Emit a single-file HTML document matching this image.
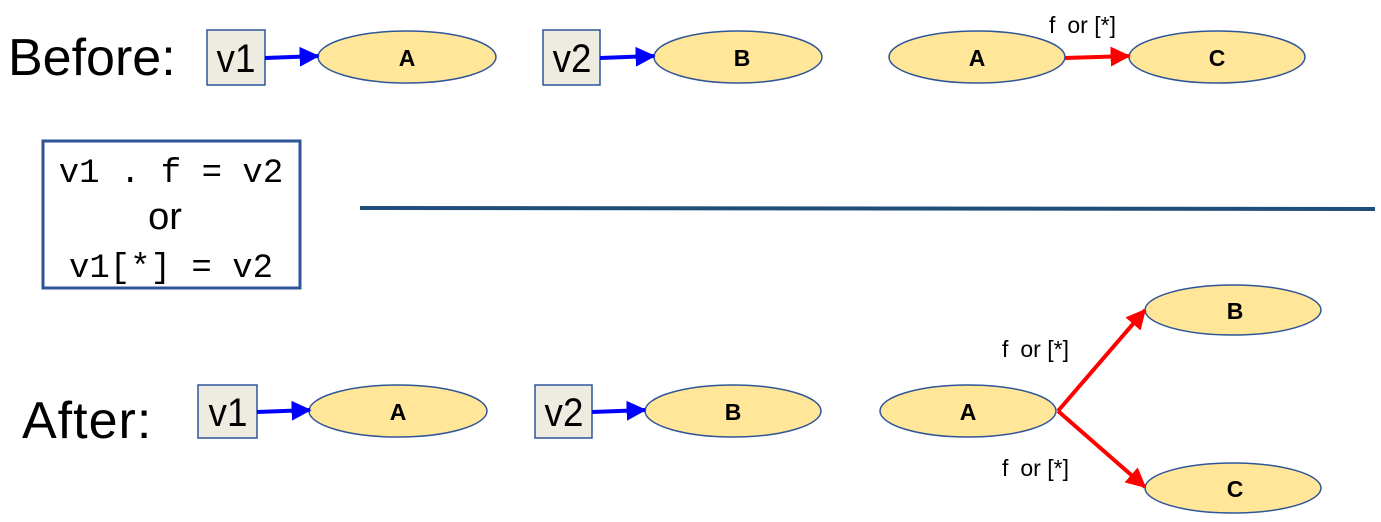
<!DOCTYPE html>
<html><head><meta charset="utf-8"><style>
body{margin:0;background:#fff;}
svg{display:block}
</style></head><body>
<svg width="1381" height="522" viewBox="0 0 1381 522" xmlns="http://www.w3.org/2000/svg">
<defs>
<marker id="bl" markerWidth="5" markerHeight="5" refX="4.6" refY="2.5" orient="auto" markerUnits="strokeWidth"><path d="M0,0 L5,2.5 L0,5 z" fill="#0000ff"/></marker>
<marker id="rd" markerWidth="5" markerHeight="5" refX="4.6" refY="2.5" orient="auto" markerUnits="strokeWidth"><path d="M0,0 L5,2.5 L0,5 z" fill="#ff0000"/></marker>
</defs>
<g font-family="Liberation Sans, sans-serif">
<text x="8" y="75" font-size="52">Before:</text>
<text x="22" y="438" font-size="52" letter-spacing="1">After:</text>
</g>
<g stroke="#2f5597" stroke-width="1.5">
<rect x="207" y="30" width="58" height="55" fill="#eeece1"/>
<rect x="543" y="30" width="57" height="55" fill="#eeece1"/>
<rect x="198" y="385" width="59" height="53" fill="#eeece1"/>
<rect x="535" y="385" width="57" height="53" fill="#eeece1"/>
<g fill="#ffe699">
<ellipse cx="407" cy="57" rx="89" ry="26"/>
<ellipse cx="738" cy="57" rx="84" ry="26"/>
<ellipse cx="977" cy="57" rx="88" ry="26"/>
<ellipse cx="1217" cy="57" rx="88" ry="26"/>
<ellipse cx="398" cy="411" rx="89" ry="26"/>
<ellipse cx="733" cy="411" rx="88" ry="26"/>
<ellipse cx="968" cy="411" rx="88" ry="26"/>
<ellipse cx="1233" cy="310" rx="88" ry="25"/>
<ellipse cx="1233" cy="488" rx="88" ry="25"/>
</g>
</g>
<g font-family="Liberation Sans, sans-serif" font-size="40" text-anchor="middle">
<text x="236" y="72" transform="translate(236 0) scale(0.92 1) translate(-236 0)">v1</text>
<text x="572" y="72" transform="translate(572 0) scale(0.92 1) translate(-572 0)">v2</text>
<text x="228" y="426" transform="translate(228 0) scale(0.92 1) translate(-228 0)">v1</text>
<text x="564" y="426" transform="translate(564 0) scale(0.92 1) translate(-564 0)">v2</text>
</g>
<g font-family="Liberation Sans, sans-serif" font-size="23" font-weight="bold" text-anchor="middle">
<text x="407" y="66">A</text><text x="742" y="66">B</text><text x="977" y="66">A</text><text x="1217" y="66">C</text>
<text x="398" y="420">A</text><text x="733" y="420">B</text><text x="968" y="420">A</text><text x="1235" y="319">B</text><text x="1235" y="497">C</text>
</g>
<g stroke-width="4" fill="none">
<line x1="265" y1="58" x2="318" y2="56" stroke="#0000ff" marker-end="url(#bl)"/>
<line x1="600" y1="58" x2="654" y2="56" stroke="#0000ff" marker-end="url(#bl)"/>
<line x1="257" y1="412" x2="310" y2="410" stroke="#0000ff" marker-end="url(#bl)"/>
<line x1="592" y1="412" x2="645" y2="410" stroke="#0000ff" marker-end="url(#bl)"/>
<line x1="1065" y1="58" x2="1129" y2="56" stroke="#ff0000" marker-end="url(#rd)"/>
<line x1="1058" y1="411" x2="1145" y2="310" stroke="#ff0000" marker-end="url(#rd)"/>
<line x1="1058" y1="411" x2="1145" y2="487" stroke="#ff0000" marker-end="url(#rd)"/>
</g>
<g font-family="Liberation Sans, sans-serif" font-size="23">
<text x="1049" y="33">f<tspan dx="12">or [*]</tspan></text>
<text x="1002" y="357">f<tspan dx="12">or [*]</tspan></text>
<text x="1002" y="476">f<tspan dx="12">or [*]</tspan></text>
</g>
<rect x="43" y="141" width="257" height="147" fill="none" stroke="#2f5597" stroke-width="3"/>
<g font-family="Liberation Mono, monospace" font-size="34" text-anchor="middle">
<text x="171" y="182">v1 . f = v2</text>
<text x="165" y="229" font-family="Liberation Sans, sans-serif" font-size="38">or</text>
<text x="171" y="277">v1[*] = v2</text>
</g>
<line x1="360" y1="208" x2="1375" y2="209" stroke="#1f4e79" stroke-width="4"/>
</svg>
</body></html>
